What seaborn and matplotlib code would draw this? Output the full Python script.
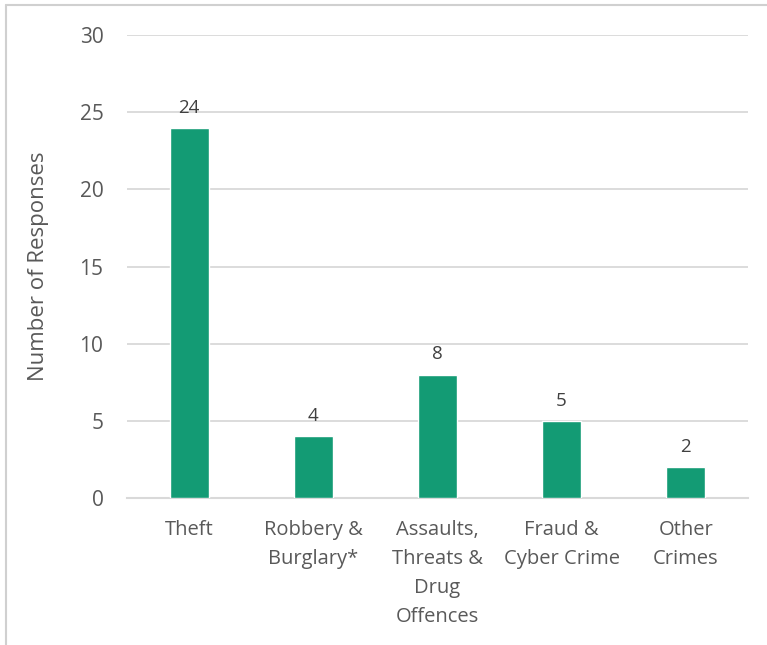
import matplotlib
matplotlib.use("Agg")
import matplotlib.pyplot as plt
import seaborn as sns
import pandas as pd
from matplotlib.lines import Line2D

categories = ["Theft", "Robbery &\nBurglary*", "Assaults,\nThreats &\nDrug\nOffences",
              "Fraud &\nCyber Crime", "Other\nCrimes"]
responses = [24, 4, 8, 5, 2]
y_ticks = [0, 5, 10, 15, 20, 25, 30]

sns.set_theme(style="white")
plt.rcParams["font.family"] = ["Open Sans", "DejaVu Sans"]
text_col = "#595959"
grid_col = "#D9D9D9"
bar_col = "#139B74"

df = pd.DataFrame({"category": categories, "responses": responses})

fig = plt.figure(figsize=(7.67, 6.45), dpi=100)
ax = fig.add_axes([0.1656, 0.2279, 0.8094, 0.7178])

sns.barplot(data=df, x="category", y="responses", color=bar_col, width=0.315,
            saturation=1, ax=ax, zorder=3)

ax.set_ylim(0, 30)
ax.set_xlim(-0.5, len(categories) - 0.5)
ax.set_yticks(y_ticks)
ax.yaxis.grid(True, color=grid_col, linewidth=1.3, zorder=0)
ax.set_axisbelow(True)
for s in ["top", "right", "left"]:
    ax.spines[s].set_visible(False)
ax.spines["bottom"].set_color(grid_col)
ax.spines["bottom"].set_linewidth(1.5)
ax.tick_params(axis="both", length=0, colors=text_col)
ax.tick_params(axis="y", pad=17, labelsize=15)
ax.tick_params(axis="x", pad=16, labelsize=14.5)
for lbl in ax.get_xticklabels():
    lbl.set_linespacing(1.6)
ax.set_xlabel("")
ax.set_ylabel("Number of Responses", fontsize=16, color=text_col, labelpad=22)

for i, v in enumerate(responses):
    ax.annotate(str(v), (i, v), xytext=(0, 8), textcoords="offset points",
                ha="center", va="bottom", fontsize=13.5, color="#404040")

# chart frame (left and top edges visible)
fig.add_artist(Line2D([6 / 767, 6 / 767], [0, 1 - 5 / 645], transform=fig.transFigure,
                      color="#D0D0D0", linewidth=1.5))
fig.add_artist(Line2D([6 / 767, 1], [1 - 5 / 645, 1 - 5 / 645], transform=fig.transFigure,
                      color="#D0D0D0", linewidth=1.5))

fig.savefig("out.png", dpi=100, facecolor="white")
